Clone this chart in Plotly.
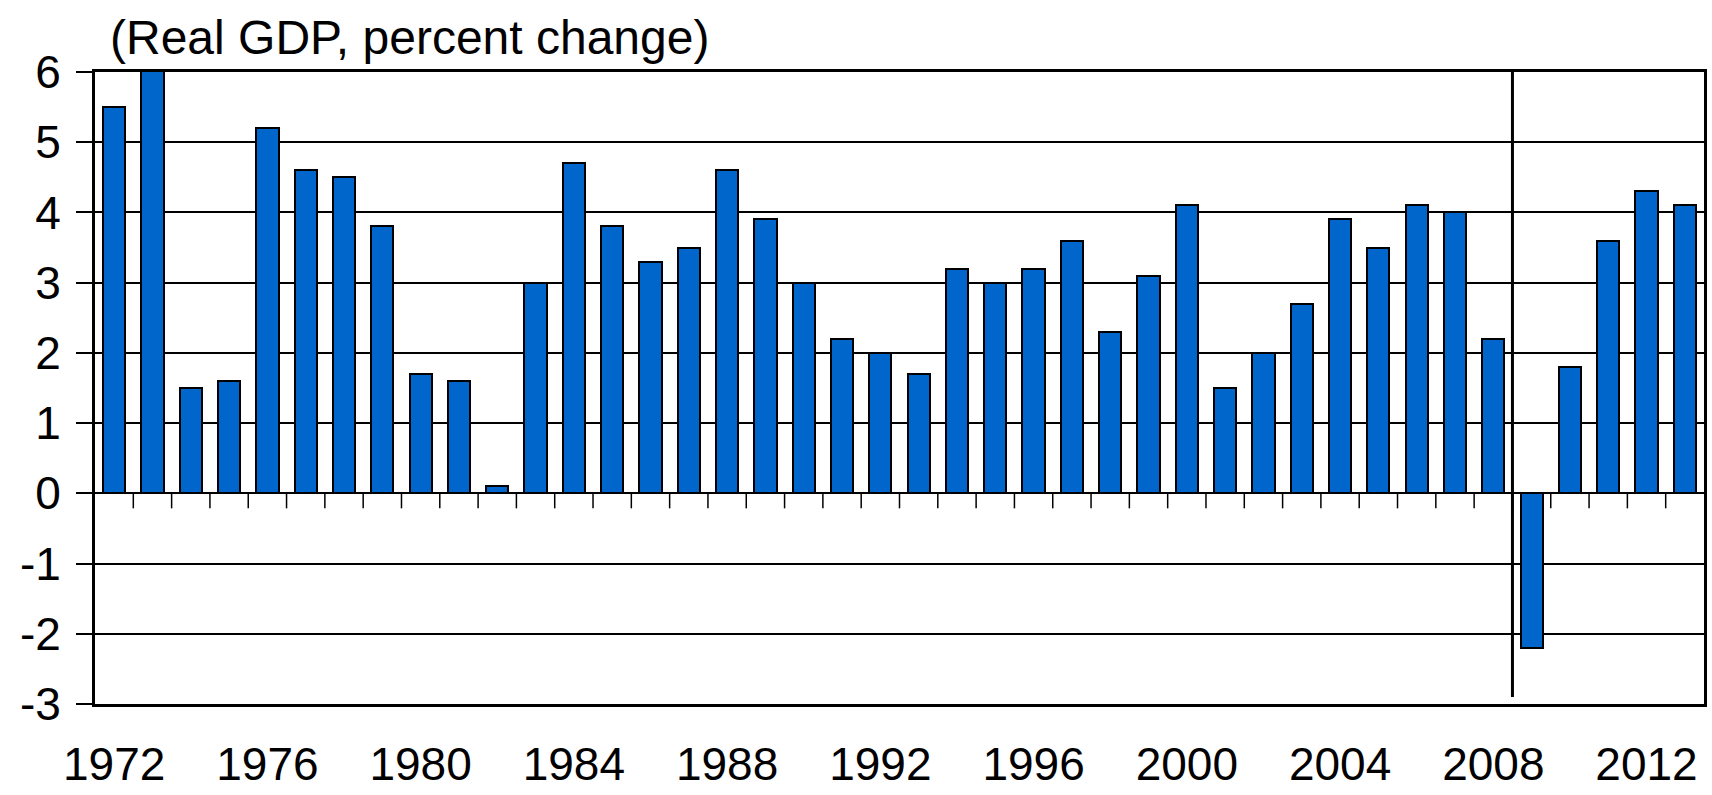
import plotly.graph_objects as go

# Data
years = list(range(1972, 2014))
gdp_growth = [5.5, 6.1, 1.5, 1.6, 5.2, 4.6, 4.5, 3.8, 1.7, 1.6,
              0.1, 3.0, 4.7, 3.8, 3.3, 3.5, 4.6, 3.9, 3.0, 2.2,
              2.0, 1.7, 3.2, 3.0, 3.2, 3.6, 2.3, 3.1, 4.1, 1.5,
              2.0, 2.7, 3.9, 3.5, 4.1, 4.0, 2.2, -2.2, 1.8, 3.6,
              4.3, 4.1]
label_years = years[::4]
divider_year = 2009  # vertical divider drawn before this year
y_ticks = list(range(-3, 7))
y_ticktext = [str(v) for v in y_ticks]  # plain hyphen minus signs
title_text = "(Real GDP, percent change)"

FONT = "Liberation Sans, Arial, sans-serif"

fig = go.Figure()
fig.add_trace(go.Bar(
    x=years, y=gdp_growth,
    width=0.58,
    marker=dict(color="#0066CC", line=dict(color="black", width=2)),
    cliponaxis=False,
    showlegend=False,
))

shapes = []
# small tick marks on the zero line between the bars
for yr in years[:-1]:
    shapes.append(dict(type="line", xref="x", yref="y",
                       x0=yr + 0.5, x1=yr + 0.5,
                       ysizemode="pixel", yanchor=0, y0=0, y1=-15,
                       line=dict(color="black", width=1.5)))
# divider line
shapes.append(dict(type="line", xref="x", yref="y",
                   x0=divider_year - 0.5, x1=divider_year - 0.5,
                   y0=6, y1=-2.9,
                   line=dict(color="black", width=3)))

fig.update_layout(
    width=1712, height=795,
    margin=dict(l=95, r=8, t=72, b=91, autoexpand=False),
    plot_bgcolor="white", paper_bgcolor="white",
    font=dict(family=FONT, size=48, color="black"),
    shapes=shapes,
    bargap=0,
    annotations=[dict(text=title_text, xref="paper", yref="paper",
                      x=0.008, y=1.054, xanchor="left", yanchor="middle",
                      showarrow=False, font=dict(size=48, family=FONT, color="black"))],
)
fig.update_xaxes(
    range=[years[0] - 0.5, years[-1] + 0.5],
    tickvals=label_years, ticktext=[str(y) for y in label_years],
    ticks="", showgrid=False, zeroline=False,
    showline=True, mirror=True, linecolor="black", linewidth=3,
    ticklabelstandoff=18, automargin=False,
    tickfont=dict(size=46),
)
fig.update_yaxes(
    range=[-3, 6], tickvals=y_ticks, ticktext=y_ticktext,
    ticks="outside", ticklen=16, tickwidth=1.5, tickcolor="black",
    showgrid=True, gridcolor="black", gridwidth=1.5, zeroline=False,
    showline=True, mirror=True, linecolor="black", linewidth=3,
    ticklabelstandoff=6, automargin=False,
    tickfont=dict(size=46),
)

fig.write_html("out.html",
               config={"displayModeBar": False},
               post_script="document.body.style.margin='0px';document.body.style.overflow='hidden';")
